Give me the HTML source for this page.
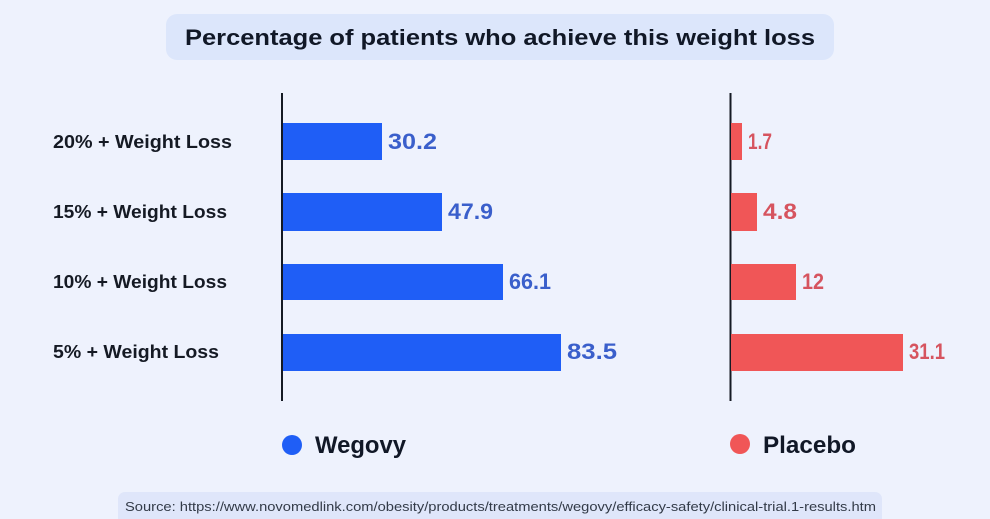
<!DOCTYPE html>
<html>
<head>
<meta charset="utf-8">
<style>
  html,body{margin:0;padding:0;}
  body{width:990px;height:519px;overflow:hidden;background:#EEF2FD;}
  svg{display:block;}
  text{font-family:"Liberation Sans",sans-serif;}
</style>
</head>
<body>
<svg width="990" height="519" viewBox="0 0 990 519" xmlns="http://www.w3.org/2000/svg">
  <rect x="0" y="0" width="990" height="519" fill="#EEF2FD"/>
  <!-- title box -->
  <rect x="166" y="14" width="668" height="46" rx="11" fill="#DCE6FB"/>
  <text x="500" y="45" text-anchor="middle" font-size="22" font-weight="bold" fill="#111827" textLength="630" lengthAdjust="spacingAndGlyphs">Percentage of patients who achieve this weight loss</text>

  <!-- row labels -->
  <g font-size="18" font-weight="bold" fill="#151a24">
    <text x="53" y="148" textLength="179" lengthAdjust="spacingAndGlyphs">20% + Weight Loss</text>
    <text x="53" y="218" textLength="174" lengthAdjust="spacingAndGlyphs">15% + Weight Loss</text>
    <text x="53" y="288" textLength="174" lengthAdjust="spacingAndGlyphs">10% + Weight Loss</text>
    <text x="53" y="358" textLength="166" lengthAdjust="spacingAndGlyphs">5% + Weight Loss</text>
  </g>

  <!-- Wegovy axis & bars -->
  <rect x="281" y="93" width="2" height="308" fill="#151a24"/>
  <g fill="#1F5EF6">
    <rect x="283" y="123" width="99" height="37"/>
    <rect x="283" y="193" width="159" height="38"/>
    <rect x="283" y="264" width="220" height="36"/>
    <rect x="283" y="334" width="278" height="37"/>
  </g>
  <g font-size="22" font-weight="bold" fill="#3A5FCB">
    <text x="388" y="149" textLength="49" lengthAdjust="spacingAndGlyphs">30.2</text>
    <text x="448" y="219" textLength="45" lengthAdjust="spacingAndGlyphs">47.9</text>
    <text x="509" y="289" textLength="42" lengthAdjust="spacingAndGlyphs">66.1</text>
    <text x="567" y="359" textLength="50" lengthAdjust="spacingAndGlyphs">83.5</text>
  </g>

  <!-- Placebo axis & bars -->
  <rect x="729.5" y="93" width="2" height="308" fill="#151a24"/>
  <g fill="#F05657">
    <rect x="731" y="123" width="11" height="37"/>
    <rect x="731" y="193" width="26" height="38"/>
    <rect x="731" y="264" width="65" height="36"/>
    <rect x="731" y="334" width="172" height="37"/>
  </g>
  <g font-size="22" font-weight="bold" fill="#D6545F">
    <text x="748" y="149" textLength="24" lengthAdjust="spacingAndGlyphs">1.7</text>
    <text x="763" y="219" textLength="34" lengthAdjust="spacingAndGlyphs">4.8</text>
    <text x="802" y="289" textLength="22" lengthAdjust="spacingAndGlyphs">12</text>
    <text x="909" y="359" textLength="36" lengthAdjust="spacingAndGlyphs">31.1</text>
  </g>

  <!-- legend -->
  <circle cx="292" cy="445" r="10" fill="#1F5EF6"/>
  <text x="315" y="453" font-size="24" font-weight="bold" fill="#111827" textLength="91" lengthAdjust="spacingAndGlyphs">Wegovy</text>
  <circle cx="740" cy="444" r="10" fill="#F05657"/>
  <text x="763" y="453" font-size="24" font-weight="bold" fill="#111827" textLength="93" lengthAdjust="spacingAndGlyphs">Placebo</text>

  <!-- source box -->
  <rect x="118" y="492" width="764" height="34" rx="7" fill="#DFE6FA"/>
  <text x="125" y="511" font-size="12.5" fill="#333B48" textLength="751" lengthAdjust="spacingAndGlyphs">Source: https://www.novomedlink.com/obesity/products/treatments/wegovy/efficacy-safety/clinical-trial.1-results.htm</text>
</svg>
</body>
</html>
